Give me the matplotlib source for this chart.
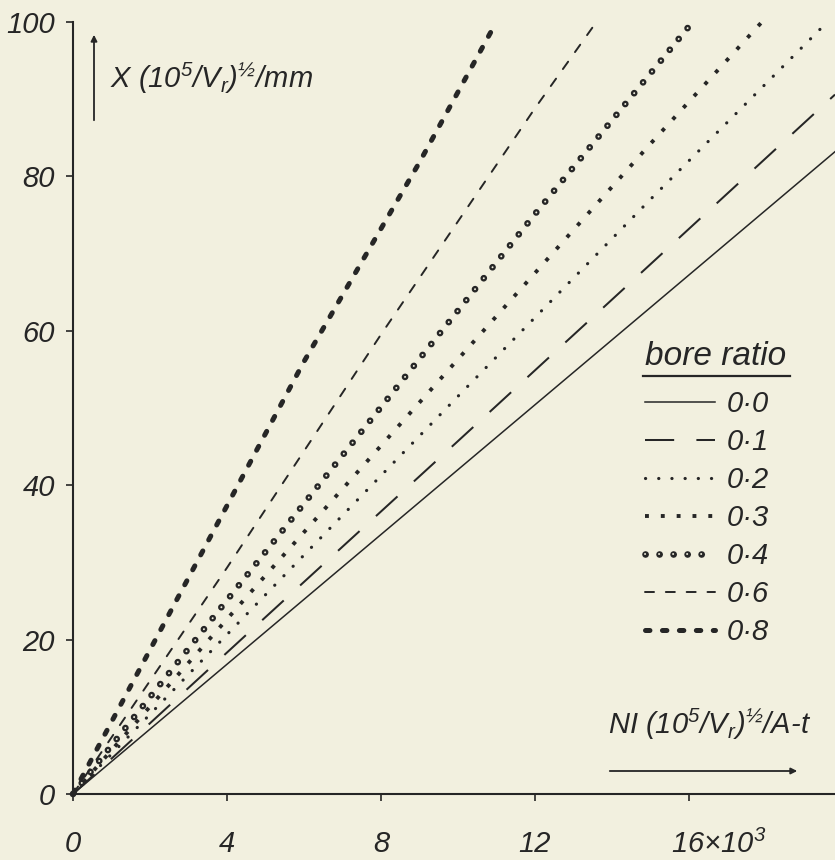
import matplotlib
matplotlib.use("Agg")
import matplotlib.pyplot as plt
from matplotlib.lines import Line2D
from matplotlib.transforms import IdentityTransform

# values (NI in 10^3 A-t, X in mm)
bore_ratio = [0.0, 0.1, 0.2, 0.3, 0.4, 0.6, 0.8]

ni_00 = [0, 5, 10, 15, 19.8]
x_00 = [0, 21.0, 42.0, 63.0, 83.2]
ni_01 = [0, 5, 10, 15, 19.8]
x_01 = [0, 22.9, 45.7, 68.6, 90.6]
ni_02 = [0, 5, 10, 15, 19.6]
x_02 = [0, 25.8, 51.5, 77.0, 100.0]
ni_03 = [0, 5, 10, 15, 17.9]
x_03 = [0, 28.3, 56.3, 84.2, 100.0]
ni_04 = [0, 4, 8, 12, 16.1]
x_04 = [0, 25.1, 50.1, 75.1, 100.0]
ni_06 = [0, 4, 8, 12, 13.6]
x_06 = [0, 29.3, 59.5, 88.8, 100.0]
ni_08 = [0, 3, 6, 9, 11.0]
x_08 = [0, 28.0, 56.0, 81.8, 100.0]

x_ticks = [0, 4, 8, 12, 16]
y_ticks = [0, 20, 40, 60, 80, 100]

labels = [("%.1f" % b).replace(".", "\u00b7") for b in bore_ratio]

ink = "#262626"
paper = "#f2f0df"
font = ["Liberation Sans Narrow", "Liberation Sans", "DejaVu Sans"]

plt.rcParams["lines.scale_dashes"] = False
plt.rcParams["mathtext.default"] = "regular"
plt.rcParams["font.family"] = font
plt.rcParams["font.style"] = "italic"

fig = plt.figure(figsize=(8.35, 8.6), dpi=100, facecolor=paper)
ax = fig.add_axes([73 / 835, 66 / 860, 762 / 835, 772 / 860])
ax.set_facecolor(paper)

kw = dict(color=ink, clip_on=False)
l0, = ax.plot(ni_00, x_00, lw=1.1, **kw)
l1, = ax.plot(ni_01, x_01, lw=1.45, dashes=(21, 16), dash_capstyle="butt", **kw)
l2, = ax.plot(ni_02, x_02, lw=2.3, dashes=(0.1, 9.4), dash_capstyle="round", **kw)
l3, = ax.plot(ni_03, x_03, lw=2.8, dashes=(2.8, 8.6), dash_capstyle="butt", **kw)
l4, = ax.plot(ni_04, x_04, lw=4.8, dashes=(0.1, 10), dash_capstyle="round", **kw)
l4b, = ax.plot(ni_04, x_04, lw=1.4, dashes=(0.1, 10), dash_capstyle="round",
               color=paper, clip_on=False)
l6, = ax.plot(ni_06, x_06, lw=1.4, dashes=(6.5, 8.5), dash_capstyle="round", **kw)
l8, = ax.plot(ni_08, x_08, lw=3.6, dashes=(3.2, 9.0), dash_capstyle="round", **kw)

ax.set_xlim(0, 19.8)
ax.set_ylim(0, 100)
for s in ["top", "right"]:
    ax.spines[s].set_visible(False)
for s in ["left", "bottom"]:
    ax.spines[s].set_linewidth(1.5)
    ax.spines[s].set_color(ink)

ax.set_xticks(x_ticks)
ax.set_xticklabels([str(t) for t in x_ticks[:-1]] + [""])
ax.set_yticks(y_ticks)
ax.set_yticklabels([str(t) for t in y_ticks])
ax.tick_params(axis="both", direction="out", length=5, width=1.2, color=ink,
               labelsize=21, labelcolor=ink)
ax.tick_params(axis="x", pad=21)
ax.tick_params(axis="y", pad=8)

ax.annotate("16\u00d710$^{3}$", xy=(x_ticks[-1], 0), xycoords=("data", "axes fraction"),
            xytext=(-13, -26), textcoords="offset points", ha="left", va="top",
            fontsize=21, color=ink)

# axis labels with arrows
fig.text(110 / 835, 1 - 78 / 860, "X (10$^{5}$/V$_{r}$)$^{\u00bd}$/mm",
         fontsize=21, color=ink, ha="left", va="center")
ax.annotate("", xy=(94 / 835, 1 - 32 / 860), xytext=(94 / 835, 1 - 123 / 860),
            xycoords="figure fraction",
            arrowprops=dict(arrowstyle="-|>", lw=1.3, color=ink, mutation_scale=9))
fig.text(608 / 835, 1 - 724 / 860, "NI (10$^{5}$/V$_{r}$)$^{\u00bd}$/A-t",
         fontsize=21, color=ink, ha="left", va="center")
ax.annotate("", xy=(800 / 835, 1 - 771 / 860), xytext=(607 / 835, 1 - 771 / 860),
            xycoords="figure fraction",
            arrowprops=dict(arrowstyle="-|>", lw=1.3, color=ink, mutation_scale=9))

handles = [l0, l1, l2, l3, (l4, l4b), l6, l8]
leg = ax.legend(handles, labels, title="bore ratio", loc="upper left",
                bbox_to_anchor=(645 / 835, 1 - 341 / 860), bbox_transform=fig.transFigure,
                frameon=False, fontsize=21, title_fontsize=24, handlelength=2.4,
                handletextpad=0.4, labelspacing=0.345, borderpad=0, borderaxespad=0,
                alignment="left")
leg._legend_box.sep = 13
for t in leg.get_texts():
    t.set_color(ink)
leg.get_title().set_color(ink)

fig.canvas.draw()
bb = leg.get_title().get_window_extent()
fig.add_artist(Line2D([bb.x0 - 2, bb.x1 + 4], [bb.y0 - 4, bb.y0 - 4], lw=1.6, color=ink,
                      transform=IdentityTransform()))

fig.savefig("out.png", dpi=100, facecolor=paper)
